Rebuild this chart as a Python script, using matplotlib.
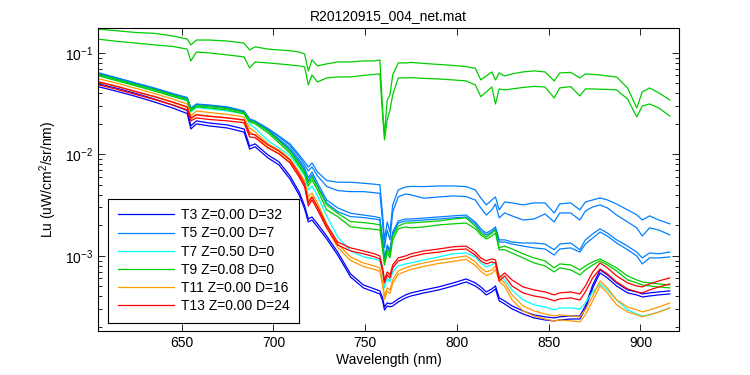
import numpy as np
import matplotlib
matplotlib.use('Agg')
import matplotlib.pyplot as plt
from matplotlib.ticker import LogLocator, FixedLocator, NullFormatter

plt.rcParams['font.family'] = ['Liberation Sans', 'DejaVu Sans']
plt.rcParams['mathtext.fontset'] = 'custom'
plt.rcParams['mathtext.rm'] = 'Liberation Sans'

# wavelength grid (nm)
wl = [604, 615, 625, 635, 645, 653, 655, 658, 665, 675,
      684, 687, 690, 697, 703, 709, 714, 717, 719, 721,
      724, 729, 735, 742, 749, 755, 758, 759.5, 760.5, 762,
      763.5, 765, 768, 772, 775, 782, 790, 798, 805, 810,
      813, 816, 819, 821, 823, 826, 830, 836, 842, 848,
      853, 856, 862, 867, 870, 874, 878, 882, 887, 893,
      898, 901, 905, 910, 916]

# T3 Z=0.00 D=32 (blue)
t3_a = [5.01e-2, 4.47e-2, 3.99e-2, 3.52e-2, 3.07e-2, 2.71e-2, 1.91e-2, 2.14e-2, 2.04e-2, 1.95e-2,
        1.78e-2, 1.21e-2, 1.27e-2, 9.89e-3, 8.44e-3, 6.14e-3, 4.27e-3, 3.11e-3, 2.31e-3, 2.42e-3,
        2.07e-3, 1.57e-3, 1.09e-3, 6.65e-4, 5.18e-4, 4.73e-4, 4.52e-4, 3.86e-4, 3.14e-4, 3.44e-4,
        3.37e-4, 3.44e-4, 3.77e-4, 4.13e-4, 4.32e-4, 4.62e-4, 4.95e-4, 5.42e-4, 5.93e-4, 5.42e-4,
        4.95e-4, 4.42e-4, 4.73e-4, 5.06e-4, 3.86e-4, 3.60e-4, 3.22e-4, 2.87e-4, 2.62e-4, 2.51e-4,
        2.45e-4, 2.51e-4, 2.56e-4, 2.56e-4, 3.22e-4, 5.18e-4, 7.28e-4, 6.50e-4, 5.42e-4, 4.62e-4,
        4.42e-4, 4.22e-4, 4.32e-4, 4.42e-4, 4.52e-4]
t3_b = [4.68e-2, 4.17e-2, 3.73e-2, 3.29e-2, 2.87e-2, 2.53e-2, 1.78e-2, 2.00e-2, 1.91e-2, 1.82e-2,
        1.66e-2, 1.13e-2, 1.19e-2, 9.24e-3, 7.88e-3, 5.73e-3, 3.99e-3, 2.90e-3, 2.16e-3, 2.26e-3,
        1.93e-3, 1.47e-3, 1.02e-3, 6.21e-4, 4.84e-4, 4.42e-4, 4.22e-4, 3.61e-4, 2.93e-4, 3.21e-4,
        3.15e-4, 3.21e-4, 3.52e-4, 3.86e-4, 4.03e-4, 4.32e-4, 4.62e-4, 5.06e-4, 5.54e-4, 5.06e-4,
        4.62e-4, 4.13e-4, 4.42e-4, 4.73e-4, 3.61e-4, 3.36e-4, 3.01e-4, 2.68e-4, 2.45e-4, 2.34e-4,
        2.29e-4, 2.34e-4, 2.39e-4, 2.39e-4, 3.01e-4, 4.84e-4, 6.80e-4, 6.07e-4, 5.06e-4, 4.32e-4,
        4.13e-4, 3.94e-4, 4.03e-4, 4.13e-4, 4.22e-4]

# T5 Z=0.00 D=7 (light blue)
t5_a = [6.43e-2, 5.67e-2, 5.06e-2, 4.52e-2, 3.99e-2, 3.64e-2, 2.87e-2, 3.14e-2, 3.07e-2, 2.94e-2,
        2.68e-2, 2.24e-2, 2.14e-2, 1.80e-2, 1.52e-2, 1.27e-2, 9.89e-3, 8.44e-3, 7.53e-3, 8.25e-3,
        6.72e-3, 5.54e-3, 5.32e-3, 5.32e-3, 5.20e-3, 5.09e-3, 5.01e-3, 2.54e-3, 1.44e-3, 2.16e-3,
        1.72e-3, 3.18e-3, 4.47e-3, 4.78e-3, 4.84e-3, 4.82e-3, 4.89e-3, 4.89e-3, 4.82e-3, 4.47e-3,
        3.73e-3, 3.18e-3, 3.56e-3, 3.81e-3, 2.84e-3, 3.40e-3, 3.33e-3, 3.18e-3, 3.33e-3, 3.33e-3,
        2.65e-3, 3.25e-3, 3.33e-3, 2.84e-3, 3.40e-3, 3.56e-3, 3.73e-3, 3.56e-3, 3.25e-3, 2.84e-3,
        2.54e-3, 2.26e-3, 2.48e-3, 2.26e-3, 2.07e-3]
t5_b = [6.35e-2, 5.61e-2, 5.01e-2, 4.47e-2, 3.94e-2, 3.60e-2, 2.84e-2, 3.11e-2, 3.04e-2, 2.90e-2,
        2.65e-2, 2.21e-2, 2.11e-2, 1.78e-2, 1.49e-2, 1.23e-2, 9.45e-3, 7.88e-3, 6.88e-3, 7.53e-3,
        6.14e-3, 4.84e-3, 4.40e-3, 4.30e-3, 4.30e-3, 4.20e-3, 4.13e-3, 2.16e-3, 1.20e-3, 1.80e-3,
        1.44e-3, 2.71e-3, 3.81e-3, 4.08e-3, 3.99e-3, 3.70e-3, 3.81e-3, 3.90e-3, 3.84e-3, 3.56e-3,
        2.97e-3, 2.53e-3, 2.84e-3, 3.25e-3, 2.37e-3, 2.65e-3, 2.48e-3, 2.26e-3, 2.31e-3, 2.59e-3,
        2.16e-3, 2.65e-3, 2.65e-3, 2.26e-3, 2.77e-3, 3.04e-3, 3.18e-3, 2.97e-3, 2.53e-3, 2.16e-3,
        1.89e-3, 1.57e-3, 1.89e-3, 1.80e-3, 1.61e-3]
t5_c = [6.28e-2, 5.54e-2, 4.95e-2, 4.42e-2, 3.90e-2, 3.56e-2, 2.81e-2, 3.07e-2, 3.00e-2, 2.87e-2,
        2.62e-2, 2.19e-2, 2.09e-2, 1.74e-2, 1.42e-2, 1.16e-2, 8.83e-3, 7.36e-3, 5.87e-3, 6.72e-3,
        5.24e-3, 3.56e-3, 2.97e-3, 2.63e-3, 2.53e-3, 2.44e-3, 2.37e-3, 1.44e-3, 9.56e-4, 1.28e-3,
        1.15e-3, 1.72e-3, 2.21e-3, 2.31e-3, 2.31e-3, 2.36e-3, 2.42e-3, 2.48e-3, 2.53e-3, 2.16e-3,
        1.85e-3, 1.68e-3, 1.80e-3, 1.93e-3, 1.44e-3, 1.44e-3, 1.37e-3, 1.34e-3, 1.34e-3, 1.31e-3,
        1.15e-3, 1.31e-3, 1.34e-3, 1.15e-3, 1.44e-3, 1.65e-3, 1.85e-3, 1.68e-3, 1.44e-3, 1.25e-3,
        1.09e-3, 9.56e-4, 1.07e-3, 1.05e-3, 1.09e-3]
t5_d = [6.21e-2, 5.48e-2, 4.89e-2, 4.37e-2, 3.86e-2, 3.52e-2, 2.77e-2, 3.04e-2, 2.97e-2, 2.84e-2,
        2.59e-2, 2.16e-2, 2.07e-2, 1.72e-2, 1.39e-2, 1.11e-2, 8.44e-3, 7.04e-3, 5.48e-3, 6.28e-3,
        4.89e-3, 3.33e-3, 2.73e-3, 2.44e-3, 2.39e-3, 2.31e-3, 2.26e-3, 1.37e-3, 9.13e-4, 1.23e-3,
        1.09e-3, 1.65e-3, 2.11e-3, 2.21e-3, 2.21e-3, 2.26e-3, 2.31e-3, 2.37e-3, 2.42e-3, 2.07e-3,
        1.76e-3, 1.61e-3, 1.72e-3, 1.85e-3, 1.37e-3, 1.37e-3, 1.31e-3, 1.25e-3, 1.20e-3, 1.17e-3,
        1.02e-3, 1.17e-3, 1.20e-3, 1.09e-3, 1.31e-3, 1.50e-3, 1.72e-3, 1.57e-3, 1.34e-3, 1.15e-3,
        1.00e-3, 8.34e-4, 9.56e-4, 9.56e-4, 9.78e-4]

# T7 Z=0.50 D=0 (cyan)
t7_a = [6.00e-2, 5.36e-2, 4.78e-2, 4.27e-2, 3.77e-2, 3.37e-2, 2.62e-2, 2.90e-2, 2.81e-2, 2.68e-2,
        2.51e-2, 2.00e-2, 1.82e-2, 1.36e-2, 1.16e-2, 9.66e-3, 7.36e-3, 6.14e-3, 4.47e-3, 4.89e-3,
        3.90e-3, 2.48e-3, 1.54e-3, 1.12e-3, 9.78e-4, 9.34e-4, 8.93e-4, 6.96e-4, 4.84e-4, 6.07e-4,
        5.54e-4, 6.96e-4, 7.97e-4, 8.34e-4, 8.53e-4, 9.13e-4, 9.78e-4, 1.05e-3, 1.07e-3, 9.78e-4,
        8.53e-4, 7.79e-4, 8.15e-4, 8.73e-4, 6.50e-4, 5.80e-4, 4.62e-4, 3.69e-4, 3.29e-4, 3.14e-4,
        2.94e-4, 3.07e-4, 3.07e-4, 3.00e-4, 3.44e-4, 4.42e-4, 5.30e-4, 4.62e-4, 3.69e-4, 2.94e-4,
        2.68e-4, 2.56e-4, 2.62e-4, 2.81e-4, 3.07e-4]

# T9 Z=0.08 D=0 (green): two casts near the surface, two deeper
t9_a = [1.72e-1, 1.65e-1, 1.59e-1, 1.56e-1, 1.47e-1, 1.37e-1, 1.20e-1, 1.34e-1, 1.34e-1, 1.31e-1,
        1.25e-1, 1.07e-1, 1.15e-1, 1.09e-1, 1.07e-1, 1.05e-1, 1.02e-1, 9.77e-2, 6.65e-2, 8.53e-2,
        7.45e-2, 7.80e-2, 8.15e-2, 8.15e-2, 8.34e-2, 8.34e-2, 8.53e-2, 2.74e-2, 1.56e-2, 3.44e-2,
        3.86e-2, 6.07e-2, 7.97e-2, 7.97e-2, 8.06e-2, 7.88e-2, 7.70e-2, 7.53e-2, 7.33e-2, 7.07e-2,
        5.42e-2, 5.93e-2, 6.50e-2, 5.42e-2, 6.35e-2, 5.93e-2, 6.21e-2, 6.50e-2, 6.65e-2, 6.50e-2,
        5.30e-2, 6.35e-2, 6.43e-2, 5.67e-2, 6.21e-2, 6.14e-2, 6.07e-2, 5.93e-2, 5.80e-2, 4.52e-2,
        2.87e-2, 4.13e-2, 4.52e-2, 4.04e-2, 3.44e-2]
t9_b = [1.37e-1, 1.30e-1, 1.25e-1, 1.20e-1, 1.16e-1, 1.09e-1, 8.34e-2, 1.02e-1, 1.00e-1, 9.56e-2,
        9.13e-2, 7.12e-2, 8.15e-2, 7.97e-2, 7.80e-2, 7.62e-2, 7.45e-2, 7.28e-2, 4.84e-2, 6.07e-2,
        5.18e-2, 5.67e-2, 5.80e-2, 5.80e-2, 6.00e-2, 6.14e-2, 6.21e-2, 2.45e-2, 1.39e-2, 2.19e-2,
        2.74e-2, 3.86e-2, 5.67e-2, 5.67e-2, 5.71e-2, 5.61e-2, 5.54e-2, 5.42e-2, 5.30e-2, 4.84e-2,
        3.71e-2, 4.13e-2, 4.62e-2, 3.14e-2, 4.42e-2, 4.32e-2, 4.42e-2, 4.57e-2, 4.68e-2, 4.62e-2,
        3.60e-2, 4.52e-2, 4.66e-2, 3.77e-2, 4.42e-2, 4.42e-2, 4.39e-2, 4.37e-2, 4.32e-2, 3.52e-2,
        2.34e-2, 3.00e-2, 3.14e-2, 2.87e-2, 2.39e-2]
t9_c = [6.21e-2, 5.48e-2, 4.89e-2, 4.37e-2, 3.86e-2, 3.52e-2, 2.77e-2, 3.04e-2, 2.97e-2, 2.84e-2,
        2.59e-2, 2.16e-2, 2.07e-2, 1.70e-2, 1.36e-2, 1.08e-2, 8.06e-3, 6.72e-3, 5.24e-3, 6.00e-3,
        4.78e-3, 3.18e-3, 2.63e-3, 2.18e-3, 2.13e-3, 2.07e-3, 2.02e-3, 1.28e-3, 8.53e-4, 1.15e-3,
        1.02e-3, 1.57e-3, 1.97e-3, 2.11e-3, 2.11e-3, 2.16e-3, 2.21e-3, 2.31e-3, 2.37e-3, 1.97e-3,
        1.68e-3, 1.54e-3, 1.68e-3, 1.80e-3, 1.20e-3, 1.25e-3, 1.17e-3, 1.05e-3, 9.56e-4, 8.93e-4,
        7.62e-4, 8.34e-4, 8.15e-4, 7.28e-4, 7.97e-4, 8.73e-4, 9.34e-4, 8.53e-4, 7.62e-4, 6.35e-4,
        5.80e-4, 5.54e-4, 5.42e-4, 5.30e-4, 5.18e-4]
t9_d = [6.00e-2, 5.30e-2, 4.73e-2, 4.22e-2, 3.73e-2, 3.40e-2, 2.68e-2, 2.94e-2, 2.87e-2, 2.74e-2,
        2.51e-2, 2.09e-2, 2.00e-2, 1.63e-2, 1.30e-2, 1.03e-2, 7.70e-3, 6.42e-3, 4.89e-3, 5.61e-3,
        4.47e-3, 2.84e-3, 2.44e-3, 1.94e-3, 1.87e-3, 1.83e-3, 1.80e-3, 1.15e-3, 8.15e-4, 1.07e-3,
        9.56e-4, 1.44e-3, 1.85e-3, 1.93e-3, 1.89e-3, 1.93e-3, 2.02e-3, 2.07e-3, 2.11e-3, 1.85e-3,
        1.61e-3, 1.47e-3, 1.57e-3, 1.68e-3, 1.15e-3, 1.15e-3, 1.07e-3, 9.56e-4, 8.53e-4, 7.97e-4,
        6.96e-4, 7.62e-4, 7.28e-4, 6.50e-4, 7.28e-4, 8.15e-4, 8.93e-4, 8.15e-4, 7.12e-4, 5.80e-4,
        5.42e-4, 5.18e-4, 5.06e-4, 4.95e-4, 4.84e-4]

# T11 Z=0.00 D=16 (orange)
t11_a = [5.61e-2, 5.01e-2, 4.47e-2, 3.99e-2, 3.52e-2, 3.14e-2, 2.39e-2, 2.68e-2, 2.59e-2, 2.48e-2,
         2.34e-2, 1.82e-2, 1.67e-2, 1.27e-2, 1.11e-2, 9.03e-3, 6.72e-3, 5.48e-3, 3.81e-3, 4.17e-3,
         3.33e-3, 2.07e-3, 1.31e-3, 9.78e-4, 8.53e-4, 7.97e-4, 7.62e-4, 5.54e-4, 4.04e-4, 4.84e-4,
         4.62e-4, 5.80e-4, 7.12e-4, 7.62e-4, 7.97e-4, 8.53e-4, 9.13e-4, 9.56e-4, 1.00e-3, 8.73e-4,
         7.62e-4, 6.96e-4, 7.28e-4, 7.97e-4, 6.07e-4, 5.42e-4, 4.13e-4, 3.22e-4, 2.87e-4, 2.68e-4,
         2.56e-4, 2.62e-4, 2.56e-4, 2.51e-4, 2.94e-4, 4.04e-4, 5.67e-4, 4.84e-4, 3.69e-4, 3.14e-4,
         2.94e-4, 2.81e-4, 2.94e-4, 3.14e-4, 3.44e-4]
t11_b = [5.18e-2, 4.63e-2, 4.13e-2, 3.69e-2, 3.25e-2, 2.90e-2, 2.21e-2, 2.48e-2, 2.39e-2, 2.29e-2,
         2.16e-2, 1.68e-2, 1.54e-2, 1.17e-2, 1.03e-2, 8.34e-3, 6.21e-3, 5.06e-3, 3.52e-3, 3.85e-3,
         3.08e-3, 1.91e-3, 1.21e-3, 9.03e-4, 7.88e-4, 7.36e-4, 7.04e-4, 5.12e-4, 3.73e-4, 4.47e-4,
         4.27e-4, 5.36e-4, 6.58e-4, 7.04e-4, 7.36e-4, 7.88e-4, 8.43e-4, 8.83e-4, 9.24e-4, 8.06e-4,
         7.04e-4, 6.43e-4, 6.72e-4, 7.36e-4, 5.61e-4, 5.01e-4, 3.69e-4, 2.88e-4, 2.56e-4, 2.39e-4,
         2.29e-4, 2.34e-4, 2.29e-4, 2.24e-4, 2.63e-4, 3.61e-4, 5.06e-4, 4.32e-4, 3.30e-4, 2.80e-4,
         2.63e-4, 2.51e-4, 2.63e-4, 2.80e-4, 3.07e-4]

# T13 Z=0.00 D=24 (red)
t13_a = [5.24e-2, 4.67e-2, 4.17e-2, 3.73e-2, 3.29e-2, 2.94e-2, 2.29e-2, 2.45e-2, 2.37e-2, 2.29e-2,
         2.19e-2, 1.59e-2, 1.56e-2, 1.24e-2, 1.08e-2, 8.83e-3, 6.42e-3, 5.12e-3, 3.33e-3, 3.81e-3,
         3.04e-3, 2.02e-3, 1.37e-3, 1.20e-3, 1.12e-3, 1.05e-3, 1.00e-3, 7.62e-4, 5.80e-4, 6.96e-4,
         6.50e-4, 8.15e-4, 9.56e-4, 1.00e-3, 1.05e-3, 1.12e-3, 1.17e-3, 1.23e-3, 1.25e-3, 1.09e-3,
         9.56e-4, 8.93e-4, 9.34e-4, 9.13e-4, 6.07e-4, 6.80e-4, 5.80e-4, 4.95e-4, 4.62e-4, 4.42e-4,
         4.13e-4, 4.32e-4, 4.42e-4, 4.22e-4, 5.06e-4, 6.96e-4, 8.53e-4, 7.62e-4, 6.35e-4, 5.42e-4,
         5.06e-4, 4.95e-4, 5.30e-4, 5.67e-4, 6.07e-4]
t13_b = [4.89e-2, 4.36e-2, 3.89e-2, 3.48e-2, 3.07e-2, 2.75e-2, 2.14e-2, 2.29e-2, 2.21e-2, 2.14e-2,
         2.05e-2, 1.49e-2, 1.46e-2, 1.16e-2, 1.01e-2, 8.25e-3, 6.00e-3, 4.78e-3, 3.11e-3, 3.56e-3,
         2.84e-3, 1.89e-3, 1.28e-3, 1.12e-3, 1.05e-3, 9.81e-4, 9.34e-4, 7.12e-4, 5.42e-4, 6.50e-4,
         6.07e-4, 7.61e-4, 8.93e-4, 9.34e-4, 9.81e-4, 1.05e-3, 1.09e-3, 1.15e-3, 1.17e-3, 1.02e-3,
         8.93e-4, 8.34e-4, 8.72e-4, 8.53e-4, 5.67e-4, 6.35e-4, 5.06e-4, 4.32e-4, 4.03e-4, 3.86e-4,
         3.61e-4, 3.77e-4, 3.86e-4, 3.68e-4, 4.42e-4, 6.08e-4, 7.45e-4, 6.65e-4, 5.54e-4, 4.73e-4,
         4.42e-4, 4.32e-4, 4.63e-4, 4.95e-4, 5.30e-4]

labels = ['T3 Z=0.00 D=32', 'T5 Z=0.00 D=7', 'T7 Z=0.50 D=0',
          'T9 Z=0.08 D=0', 'T11 Z=0.00 D=16', 'T13 Z=0.00 D=24']
colors = ['#0000ff', '#0080ff', '#00ffff', '#00cc00', '#ff9900', '#ff0000']
groups = [[t3_a, t3_b], [t5_a, t5_b, t5_c, t5_d], [t7_a],
          [t9_a, t9_b, t9_c, t9_d], [t11_a, t11_b], [t13_a, t13_b]]


def plot_spectra():
    fig = plt.figure(figsize=(7.5, 3.75), dpi=100)
    ax = fig.add_axes([0.1307, 0.1173, 0.7746, 0.808])

    for lab, col, casts in zip(labels, colors, groups):
        for i, cast in enumerate(casts):
            ax.plot(wl, cast, color=col, lw=0.9, label=lab if i == 0 else None)

    ax.set_yscale('log')
    ax.set_xlim(604.4, 921)
    ax.set_ylim(1.82e-4, 0.176)

    ax.xaxis.set_major_locator(FixedLocator([650, 700, 750, 800, 850, 900]))
    ax.yaxis.set_major_locator(LogLocator(base=10, numticks=10))
    ax.yaxis.set_minor_locator(LogLocator(base=10, subs=np.arange(2, 10), numticks=20))
    ax.yaxis.set_minor_formatter(NullFormatter())
    ax.tick_params(which='both', direction='in', top=True, right=True,
                   labelsize=10, width=0.6, colors='black')
    ax.tick_params(which='major', length=5)
    ax.tick_params(which='minor', length=3)
    for s in ax.spines.values():
        s.set_linewidth(0.8)

    ax.set_title('R20120915_004_net.mat', fontsize=10, pad=6)
    ax.set_xlabel('Wavelength (nm)', fontsize=10, labelpad=2)
    ax.set_ylabel('Lu (uW/cm$^2$/sr/nm)', fontsize=10, labelpad=4)

    leg = ax.legend(loc='lower left', bbox_to_anchor=(0.0177, 0.027), borderaxespad=0,
                    fontsize=10, handlelength=4.0, handletextpad=0.5,
                    labelspacing=0.3, borderpad=0.7, fancybox=False,
                    edgecolor='black', framealpha=1)
    leg.get_frame().set_linewidth(0.8)

    fig.savefig('out.png', dpi=100)


if __name__ == "__main__":
    plot_spectra()
